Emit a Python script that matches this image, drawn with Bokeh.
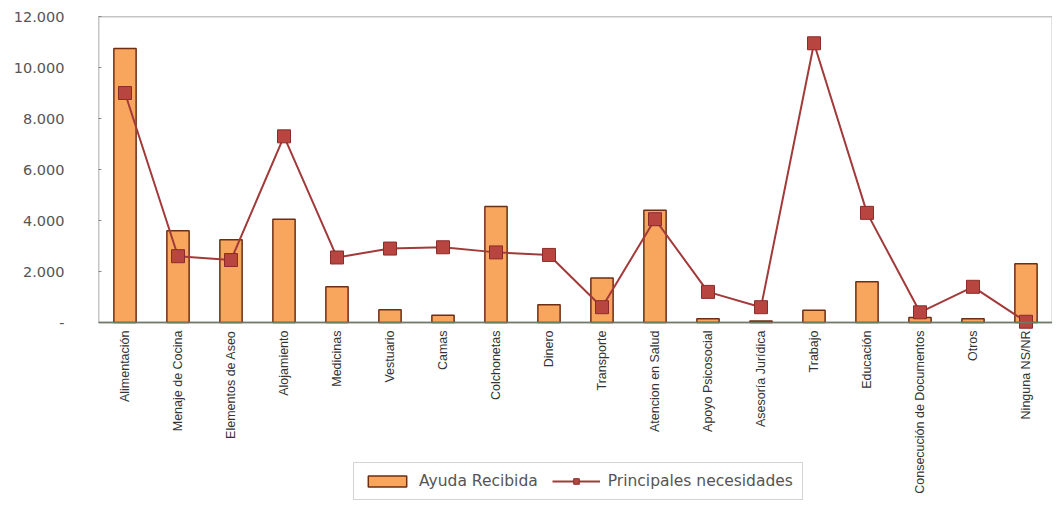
from bokeh.plotting import figure
from bokeh.models import (FactorRange, Range1d, FixedTicker, Legend, LegendItem,
                          BoxAnnotation, Span)
from bokeh.embed import file_html
from bokeh.resources import INLINE
import math

categories = ["Alimentación", "Menaje de Cocina", "Elementos de Aseo", "Alojamiento",
              "Medicinas", "Vestuario", "Camas", "Colchonetas", "Dinero", "Transporte",
              "Atencion en Salud", "Apoyo Psicosocial", "Asesoría Jurídica", "Trabajo",
              "Educación", "Consecución de Documentos", "Otros", "Ninguna NS/NR"]
ayuda_recibida = [10750, 3600, 3250, 4050, 1400, 500, 280, 4550, 700, 1750,
                  4400, 150, 60, 480, 1600, 200, 150, 2300]
principales_necesidades = [9000, 2600, 2450, 7300, 2550, 2900, 2950, 2750, 2650, 600,
                           4050, 1200, 600, 10950, 4300, 400, 1400, 30]
y_ticks = [0, 2000, 4000, 6000, 8000, 10000, 12000]
y_tick_labels = ["-", "2.000", "4.000", "6.000", "8.000", "10.000", "12.000"]

# layout: plot box 306px tall for 0..12000, 183px of label/legend room below it
Y_MAX = 12000
BOX_PX, BELOW_PX = 306, 183
y_min = -Y_MAX * BELOW_PX / BOX_PX

p = figure(x_range=FactorRange(*categories, range_padding=0),
           y_range=Range1d(y_min, Y_MAX),
           width=1052, height=16 + BOX_PX + BELOW_PX, output_backend="svg",
           toolbar_location=None,
           min_border_left=98, min_border_top=16, min_border_right=0, min_border_bottom=0)
p.xaxis.visible = False
p.outline_line_color = None
p.xgrid.grid_line_color = None
p.ygrid.grid_line_color = None

# plot box
p.add_layout(BoxAnnotation(bottom=0, top=Y_MAX, fill_alpha=0, line_color="#8c8c8c",
                           line_alpha=1, line_width=1.5, level="underlay"))

bars = p.vbar(x=categories, top=ayuda_recibida, width=0.42,
              fill_color="#F8A65E", line_color="#6E2E14", line_width=1.5)
ln = p.line(x=categories, y=principales_necesidades, line_color="#A23A3A", line_width=2)
mk = p.scatter(x=categories, y=principales_necesidades, marker="square", size=13,
               fill_color="#B8453F", line_color="#8A2C2A", line_width=1)

# x baseline
p.add_layout(Span(location=0, dimension="width", line_color="#6f7a6a", line_width=1.5))

# category labels (rotated)
p.text(x=categories, y=[0] * len(categories), text=categories, angle=math.pi / 2,
       text_align="right", text_baseline="middle", y_offset=8,
       text_font={"value": "Liberation Sans"}, text_font_size="12.5px",
       text_color="#333333")

p.yaxis.ticker = FixedTicker(ticks=y_ticks)
p.yaxis.major_label_overrides = {t: l for t, l in zip(y_ticks, y_tick_labels)}
p.yaxis.major_label_text_font = "DejaVu Sans"
p.yaxis.major_label_text_font_size = "14.5px"
p.yaxis.major_label_text_color = "#555555"
p.yaxis.axis_line_color = None
p.yaxis.major_tick_in = 3
p.yaxis.major_tick_out = 0
p.yaxis.major_tick_line_color = "#8a8a8a"
p.yaxis.minor_tick_line_color = None
p.yaxis.major_label_standoff = 34

legend = Legend(items=[LegendItem(label="Ayuda Recibida", renderers=[bars]),
                       LegendItem(label="Principales necesidades", renderers=[ln, mk])],
                orientation="horizontal", location=(255, 5),
                glyph_width=48, glyph_height=14,
                label_text_font="DejaVu Sans", label_text_font_size="15.5px",
                label_text_color="#555555",
                border_line_color="#aaaaaa", border_line_width=1,
                padding=9, spacing=14, label_standoff=8, margin=0)
p.add_layout(legend, "center")

open("out.html", "w").write(file_html(p, INLINE))
